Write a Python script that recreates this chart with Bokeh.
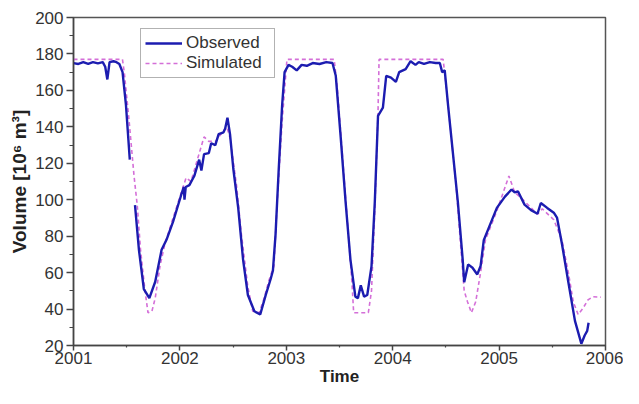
import numpy as np
from bokeh.plotting import figure
from bokeh.models import Range1d, FixedTicker, Legend, LegendItem, ColumnDataSource
from bokeh.embed import file_html
from bokeh.resources import INLINE

# Observed series (time in decimal years, volume in 10^6 m^3); NaN = data gap
obs_t = [2001.000, 2001.046, 2001.092, 2001.138, 2001.183, 2001.229, 2001.275, 2001.298,
         2001.318, 2001.339, 2001.376, 2001.404, 2001.431, 2001.461, 2001.493, 2001.529,
         2001.550,
         2001.578, 2001.615, 2001.661, 2001.713, 2001.768, 2001.828, 2001.874, 2001.936,
         2002.012, 2002.037, 2002.043, 2002.055, 2002.089, 2002.135, 2002.181, 2002.202,
         2002.227, 2002.272, 2002.294, 2002.333, 2002.364, 2002.410, 2002.425, 2002.447,
         2002.471, 2002.502, 2002.548, 2002.594, 2002.639, 2002.700, 2002.755, 2002.807,
         2002.853, 2002.874, 2002.899, 2002.929, 2002.961, 2002.984, 2003.021, 2003.055,
         2003.098, 2003.144, 2003.193, 2003.248, 2003.312, 2003.376, 2003.434, 2003.465,
         2003.511, 2003.557, 2003.603, 2003.649, 2003.673, 2003.700, 2003.731, 2003.761,
         2003.801, 2003.832, 2003.862, 2003.908, 2003.939, 2003.984, 2004.030, 2004.061,
         2004.122, 2004.168, 2004.214, 2004.245, 2004.294, 2004.349, 2004.404, 2004.443,
         2004.465, 2004.489, 2004.520, 2004.566, 2004.612, 2004.658, 2004.672, 2004.709,
         2004.750, 2004.795, 2004.826, 2004.856, 2004.917, 2004.979, 2005.055, 2005.117,
         2005.147, 2005.177, 2005.239, 2005.300, 2005.361, 2005.392, 2005.452, 2005.514,
         2005.544, 2005.590, 2005.651, 2005.713, 2005.773, 2005.804, 2005.828, 2005.841]
obs_v = [175.0, 174.5, 175.5, 174.5, 175.5, 174.8, 175.5, 173.0,
         166.0, 175.5, 176.0, 175.5, 174.5, 170.0, 152.0, 122.0,
         float("nan"),
         97.0, 72.5, 51.0, 46.0, 55.0, 72.5, 78.0, 88.0,
         102.6, 107.0, 100.0, 107.0, 108.0, 113.0, 122.0, 116.0,
         125.0, 125.6, 131.0, 130.0, 136.0, 137.0, 139.0, 145.0,
         136.0, 117.0, 95.5, 67.0, 47.7, 38.8, 37.0, 47.8,
         56.5, 61.0, 81.0, 117.0, 152.0, 170.0, 174.0, 173.0,
         171.0, 174.0, 173.5, 175.0, 174.5, 175.5, 175.0, 168.0,
         134.5, 99.0, 67.0, 46.8, 46.0, 53.0, 46.8, 47.7,
         63.6, 99.0, 146.0, 150.5, 168.0, 167.0, 164.7, 170.0,
         171.7, 176.0, 174.0, 175.5, 174.5, 175.5, 175.0, 175.0,
         170.0, 171.0, 152.0, 125.6, 99.0, 67.0, 54.7, 64.5,
         62.7, 59.0, 63.6, 77.8, 86.6, 95.5, 101.7, 105.6,
         104.0, 104.6, 97.3, 94.3, 92.3, 98.2, 95.5, 92.9,
         90.2, 76.0, 54.7, 33.5, 21.0, 25.5, 28.0, 32.5]

# Simulated series
sim_t = [2001.000, 2001.460, 2001.477, 2001.523, 2001.569, 2001.599, 2001.630, 2001.670,
         2001.700, 2001.737, 2001.768, 2001.814, 2001.860, 2001.936, 2002.058, 2002.104,
         2002.227, 2002.272, 2002.333, 2002.440, 2002.471, 2002.532, 2002.578, 2002.639,
         2002.685, 2002.746, 2002.792, 2002.838, 2002.884, 2002.915, 2002.961, 2003.006,
         2003.450, 2003.480, 2003.526, 2003.572, 2003.617, 2003.633, 2003.771, 2003.801,
         2003.835, 2003.862, 2003.872, 2004.474, 2004.505, 2004.550, 2004.596, 2004.642,
         2004.672, 2004.703, 2004.740, 2004.780, 2004.826, 2004.872, 2004.979, 2005.039,
         2005.092, 2005.147, 2005.208, 2005.284, 2005.361, 2005.406, 2005.514, 2005.590,
         2005.651, 2005.697, 2005.743, 2005.789, 2005.835, 2005.881, 2005.957]
sim_v = [177.0, 177.0, 170.0, 143.0, 113.0, 97.0, 72.5, 51.0,
         38.0, 38.8, 46.0, 64.0, 76.0, 90.0, 112.0, 110.0,
         134.5, 132.0, 132.0, 140.0, 134.0, 108.0, 81.0, 52.0,
         38.8, 38.0, 46.0, 56.0, 63.6, 99.0, 143.0, 177.0,
         177.0, 161.0, 125.6, 90.0, 54.7, 38.0, 38.0, 50.0,
         99.0, 148.0, 177.0, 177.0, 161.0, 134.5, 108.0, 72.5,
         50.0, 44.0, 38.0, 44.0, 60.0, 78.0, 94.0, 104.0,
         113.0, 104.0, 101.0, 96.5, 92.0, 95.0, 89.0, 78.0,
         60.0, 44.0, 37.0, 40.5, 45.0, 46.8, 46.5]

x_ticks = [2001, 2002, 2003, 2004, 2005, 2006]
x_minor = [2001.5, 2002.5, 2003.5, 2004.5, 2005.5]
y_ticks = [20, 40, 60, 80, 100, 120, 140, 160, 180, 200]
y_minor = [30, 50, 70, 90, 110, 130, 150, 170, 190]

FONT = "Liberation Sans"
TXT = "#333333"

p = figure(width=623, height=388, output_backend="svg", toolbar_location=None,
           x_range=Range1d(2001, 2006), y_range=Range1d(20, 200),
           min_border_left=73, min_border_right=18, min_border_top=17, min_border_bottom=40)
p.grid.visible = False
p.outline_line_color = "#555555"
p.outline_line_width = 1.5
p.background_fill_color = "white"
p.border_fill_color = "white"

src_sim = ColumnDataSource(dict(t=sim_t, v=sim_v))
src_obs = ColumnDataSource(dict(t=obs_t, v=obs_v))
r_sim = p.line("t", "v", source=src_sim, line_color="#d46fd8", line_width=1.6, line_dash="4 3")
r_obs = p.line("t", "v", source=src_obs, line_color="#1c1cb0", line_width=2.4)

p.xaxis.ticker = FixedTicker(ticks=x_ticks, minor_ticks=x_minor)
p.yaxis.ticker = FixedTicker(ticks=y_ticks, minor_ticks=y_minor)

for ax in (p.xaxis[0], p.yaxis[0]):
    ax.axis_line_color = "#444444"
    ax.axis_line_width = 1.5
    ax.major_tick_line_color = "#444444"
    ax.minor_tick_line_color = "#444444"
    ax.major_tick_line_width = 1.5
    ax.minor_tick_line_width = 1.2
    ax.major_label_text_font = FONT
    ax.major_label_text_font_size = "17px"
    ax.major_label_text_color = TXT
    ax.axis_label_text_font = FONT
    ax.axis_label_text_font_size = "17px"
    ax.axis_label_text_font_style = "bold"
    ax.axis_label_text_color = "#222222"

p.xaxis.major_tick_in = 0
p.xaxis.major_tick_out = 5
p.xaxis.minor_tick_in = 0
p.xaxis.minor_tick_out = 2
p.xaxis.major_label_standoff = 1
p.xaxis.axis_label = "Time"
p.xaxis.axis_label_standoff = 0

p.yaxis.major_tick_in = 0
p.yaxis.major_tick_out = 7
p.yaxis.minor_tick_in = 0
p.yaxis.minor_tick_out = 4
p.yaxis.major_label_standoff = 3
p.yaxis.axis_label = "Volume [10\u2076 m\u00b3]"
p.yaxis.axis_label_text_font_size = "19px"
p.yaxis.axis_label_standoff = 2

legend = Legend(items=[LegendItem(label="Observed", renderers=[r_obs]),
                       LegendItem(label="Simulated", renderers=[r_sim])],
                location=(67, 267))
legend.label_text_font = FONT
legend.label_text_font_size = "17px"
legend.label_text_color = TXT
legend.glyph_width = 37
legend.glyph_height = 18
legend.label_height = 18
legend.label_width = 84
legend.label_standoff = 4
legend.spacing = 0
legend.padding = 4
legend.margin = 0
legend.border_line_color = "#666666"
legend.border_line_width = 1.5
legend.background_fill_alpha = 1.0
p.add_layout(legend)

open("out.html", "w").write(file_html(p, INLINE))
